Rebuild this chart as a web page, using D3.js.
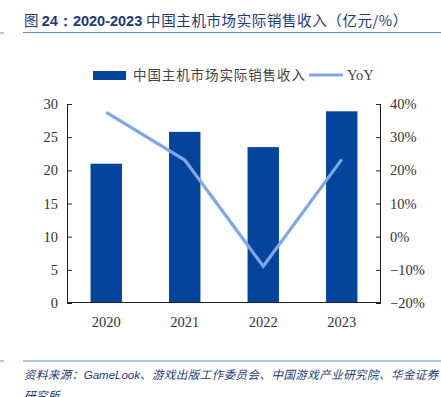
<!DOCTYPE html>
<html>
<head>
  <meta charset="utf-8">
  <script src="https://d3js.org/d3.v7.min.js"></script>
  <style>
    body { margin: 0; background: #fff; }
    svg { display: block; }
  </style>
</head>
<body>
<div id="chart"></div>
<script>
  // Data
  var years = ["2020", "2021", "2022", "2023"];
  var revenue = [21.0, 25.8, 23.5, 28.9];      // 亿元
  var yoy = [37.5, 23.1, -8.9, 23.3];          // %
  var leftTicks = [0, 5, 10, 15, 20, 25, 30];
  var rightTicks = [-20, -10, 0, 10, 20, 30, 40];

  var W = 441, H = 397;
  var m = {top: 104, right: 60, bottom: 94, left: 67};
  var w = W - m.left - m.right,
      h = H - m.top - m.bottom;

  var svg = d3.select("#chart").append("svg")
      .attr("width", W).attr("height", H);

  // Header / footer
  var lineBlue = "#5b8fd0";
  svg.append("line").attr("x1", 0).attr("x2", 4).attr("y1", 33).attr("y2", 33)
      .attr("stroke", lineBlue).attr("stroke-width", 1);
  svg.append("line").attr("x1", 23).attr("x2", W).attr("y1", 32.5).attr("y2", 32.5)
      .attr("stroke", lineBlue).attr("stroke-width", 1.2);
  var title = svg.append("text").attr("x", 24).attr("y", 26)
      .attr("fill", "#1b3a78").style("font-family", "'Noto Sans CJK SC', sans-serif")
      .style("font-size", "14.5px");
  title.append("tspan").text("图 ");
  title.append("tspan").style("font-family", "'Liberation Sans', Arial, sans-serif")
      .style("font-weight", "bold").text("24：2020-2023");
  title.append("tspan").style("letter-spacing", "0.6px").text(" 中国主机市场实际销售收入（亿元/%）");

  svg.append("line").attr("x1", 0).attr("x2", 4).attr("y1", 361).attr("y2", 361)
      .attr("stroke", lineBlue).attr("stroke-width", 1);
  svg.append("line").attr("x1", 23).attr("x2", W).attr("y1", 361).attr("y2", 361)
      .attr("stroke", lineBlue).attr("stroke-width", 1.2);
  var src = svg.append("text").attr("x", 24).attr("y", 379)
      .attr("fill", "#1b3a78").style("font-style", "italic")
      .style("font-family", "'Noto Sans CJK SC', sans-serif").style("font-size", "11.5px");
  src.append("tspan").style("letter-spacing", "0.45px").text("资料来源：");
  src.append("tspan").style("font-family", "'Liberation Sans', Arial, sans-serif").text("GameLook");
  src.append("tspan").style("letter-spacing", "0.45px").text("、游戏出版工作委员会、中国游戏产业研究院、华金证券");
  svg.append("text").attr("x", 24).attr("y", 400)
      .attr("fill", "#1b3a78").style("font-style", "italic").style("letter-spacing", "0.45px")
      .style("font-family", "'Noto Sans CJK SC', sans-serif").style("font-size", "11.5px")
      .text("研究所");

  var g = svg.append("g").attr("transform", "translate(" + m.left + "," + m.top + ")");

  var x = d3.scaleBand().domain(years).range([0, w]).paddingInner(0.6).paddingOuter(0.3);
  var y = d3.scaleLinear().domain([0, 30]).range([h, 0]);
  var y2 = d3.scaleLinear().domain([-20, 40]).range([h, 0]);

  // Bars
  g.selectAll("rect.bar").data(years).enter().append("rect")
      .attr("class", "bar")
      .attr("x", function(d) { return x(d); })
      .attr("width", x.bandwidth())
      .attr("y", function(d, i) { return y(revenue[i]); })
      .attr("height", function(d, i) { return h - y(revenue[i]); })
      .attr("fill", "#03449c");

  // YoY line
  var line = d3.line()
      .x(function(d, i) { return x(years[i]) + x.bandwidth() / 2; })
      .y(function(d) { return y2(d); });
  g.append("path").datum(yoy).attr("d", line)
      .attr("fill", "none").attr("stroke", "#7ea7ea").attr("stroke-width", 3.2);

  var tickFont = "'Liberation Serif', 'Times New Roman', serif";

  // Left axis
  var yAxis = g.append("g").call(d3.axisLeft(y).tickValues(leftTicks).tickSize(0).tickPadding(9));
  yAxis.select(".domain").remove();
  yAxis.selectAll(".tick line").attr("x1", 0).attr("x2", 5).attr("stroke", "#222");
  g.append("line").attr("x1", 0.5).attr("x2", 0.5).attr("y1", 0).attr("y2", h)
      .attr("stroke", "#222");

  // Right axis
  var y2Axis = g.append("g").attr("transform", "translate(" + w + ",0)")
      .call(d3.axisRight(y2).tickValues(rightTicks).tickSize(0).tickPadding(9)
        .tickFormat(function(d) { return (d < 0 ? "\u2212" + (-d) : d) + "%"; }));
  y2Axis.select(".domain").remove();
  y2Axis.selectAll(".tick line").attr("x1", 0).attr("x2", -5).attr("stroke", "#222");
  g.append("line").attr("x1", w - 0.5).attr("x2", w - 0.5).attr("y1", 0).attr("y2", h)
      .attr("stroke", "#222");

  // Bottom axis
  var xAxis = g.append("g").attr("transform", "translate(0," + h + ")")
      .call(d3.axisBottom(x).tickSize(0).tickPadding(14));
  xAxis.select(".domain").remove();
  g.append("line").attr("x1", 0).attr("x2", w).attr("y1", h - 0.5).attr("y2", h - 0.5)
      .attr("stroke", "#222");

  [yAxis, y2Axis, xAxis].forEach(function(a) {
    a.selectAll("text").style("font-family", tickFont).style("font-size", "14.5px")
      .attr("fill", "#333");
  });

  // Legend
  var lg = svg.append("g");
  lg.append("rect").attr("x", 93).attr("y", 71).attr("width", 33).attr("height", 9)
      .attr("fill", "#03449c");
  lg.append("text").attr("x", 133).attr("y", 80).style("letter-spacing", "0.9px")
      .style("font-family", "'Noto Sans CJK SC', sans-serif").style("font-size", "13.5px")
      .attr("fill", "#444").text("中国主机市场实际销售收入");
  lg.append("line").attr("x1", 309).attr("x2", 343).attr("y1", 75).attr("y2", 75)
      .attr("stroke", "#7ea7ea").attr("stroke-width", 3.2);
  lg.append("text").attr("x", 347).attr("y", 80)
      .style("font-family", tickFont).style("font-size", "14.5px")
      .attr("fill", "#444").text("YoY");
</script>
</body>
</html>
